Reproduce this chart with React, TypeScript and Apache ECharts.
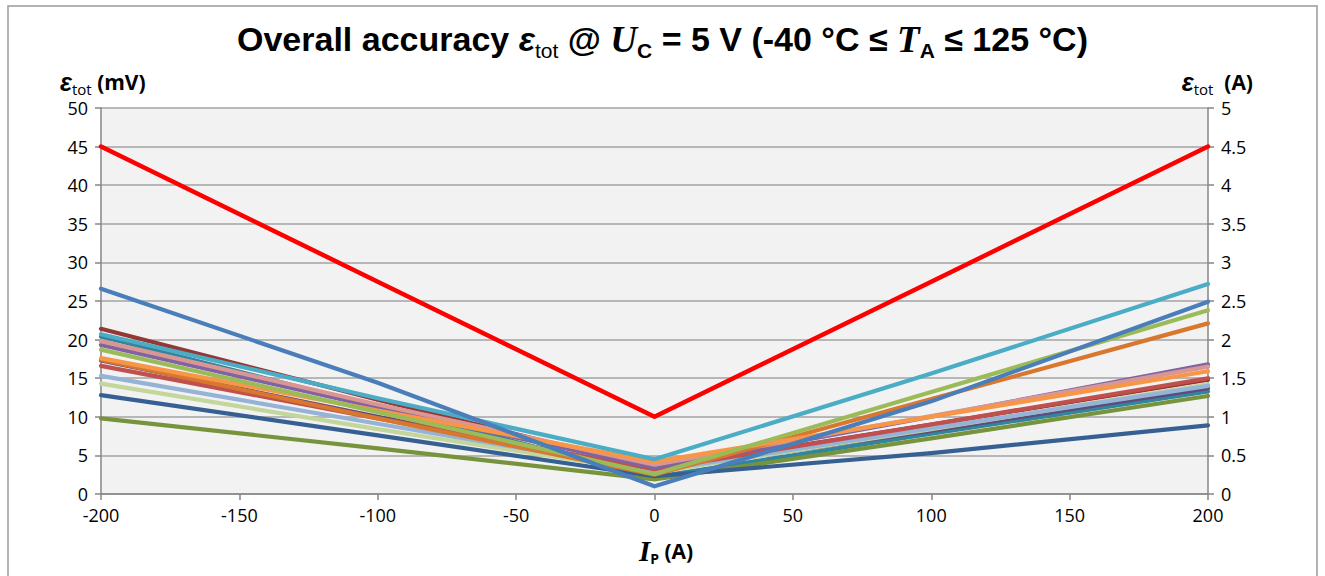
import React, { useEffect, useRef } from "react";
import * as echarts from "echarts";

// Current Ip (A) at which each curve is sampled
const xValues = [-200, -100, 0, 100, 200];

// Overall accuracy curves (mV), one per device / temperature
const blue = [26.6, 14.4, 1.0, 12.0, 24.9];
const teal = [20.7, 12.4, 4.5, 15.6, 27.2];
const green = [18.7, 10.6, 2.6, 13.2, 23.8];
const darkOrange = [17.4, 9.8, 2.5, 12.3, 22.1];
const purple = [19.3, 11.2, 3.4, 10.0, 16.8];
const pink = [19.8, 11.6, 3.8, 10.1, 16.5];
const orange = [17.6, 10.8, 4.2, 10.0, 15.9];
const red = [16.6, 9.8, 3.2, 9.0, 15.0];
const lightGreen = [14.3, 8.4, 2.8, 8.4, 14.2];
const darkPurple = [17.3, 10.0, 3.0, 8.2, 13.7];
const darkTeal = [20.4, 11.3, 2.2, 7.8, 13.3];
const olive = [9.8, 5.9, 1.9, 7.2, 12.7];
const darkBlue = [12.8, 7.6, 2.3, 5.3, 8.9];
const darkRed = [21.4, 12.2, 3.3, 9.0, 14.8];
const lightBlue = [15.3, 9.1, 3.0, 8.5, 14.0];
const limit = [45, 27.5, 10, 27.5, 45];

// tick labels
const leftTicks = ["0", "5", "10", "15", "20", "25", "30", "35", "40", "45", "50"];
const rightTicks = ["0", "0.5", "1", "1.5", "2", "2.5", "3", "3.5", "4", "4.5", "5"];
const xTicks = ["-200", "-150", "-100", "-50", "0", "50", "100", "150", "200"];

const curves: { name: string; values: number[]; color: string; width: number }[] = [
  { name: "dark red", values: darkRed, color: "#953735", width: 4.2 },
  { name: "dark teal", values: darkTeal, color: "#31859C", width: 4.2 },
  { name: "olive", values: olive, color: "#77933C", width: 4.2 },
  { name: "dark blue", values: darkBlue, color: "#376092", width: 4.2 },
  { name: "dark purple", values: darkPurple, color: "#604A7B", width: 4.2 },
  { name: "light green", values: lightGreen, color: "#C3D69B", width: 4.2 },
  { name: "light blue", values: lightBlue, color: "#95B3D7", width: 4.2 },
  { name: "red", values: red, color: "#C0504D", width: 4.2 },
  { name: "purple", values: purple, color: "#8064A2", width: 4.2 },
  { name: "pink", values: pink, color: "#D99694", width: 4.2 },
  { name: "dark orange", values: darkOrange, color: "#D9772F", width: 4.2 },
  { name: "orange", values: orange, color: "#F79646", width: 4.2 },
  { name: "green", values: green, color: "#9BBB59", width: 4.2 },
  { name: "teal", values: teal, color: "#4BACC6", width: 4.2 },
  { name: "blue", values: blue, color: "#4A7EBB", width: 4.2 },
  { name: "limit", values: limit, color: "#FF0000", width: 4.5 },
];

const SANS = "'Open Sans', 'Liberation Sans', sans-serif";
const ARIAL = "'Liberation Sans', Arial, sans-serif";
const SERIF = "'Liberation Serif', 'DejaVu Serif', serif";

export default function App() {
  const ref = useRef<HTMLDivElement>(null);

  useEffect(() => {
    if (!ref.current) return;
    const chart = echarts.init(ref.current, undefined, { renderer: "svg" });

    const titleRich = {
      b: { fontFamily: ARIAL, fontWeight: "bold", fontSize: 34, color: "#000", lineHeight: 44, verticalAlign: "middle" },
      e: { fontFamily: ARIAL, fontWeight: "bold", fontStyle: "italic", fontSize: 34, color: "#000", lineHeight: 44, verticalAlign: "middle" },
      it: { fontFamily: SERIF, fontWeight: "bold", fontStyle: "italic", fontSize: 37, color: "#000", lineHeight: 44, verticalAlign: "middle" },
      s: { fontFamily: ARIAL, fontWeight: "normal", fontSize: 21, color: "#000", lineHeight: 26, verticalAlign: "bottom" },
      sb: { fontFamily: ARIAL, fontWeight: "bold", fontSize: 21, color: "#000", lineHeight: 26, verticalAlign: "bottom" },
    };

    const nameRich = {
      e: { fontFamily: ARIAL, fontWeight: "bold", fontStyle: "italic", fontSize: 25, color: "#000", lineHeight: 28, verticalAlign: "middle" },
      b: { fontFamily: SANS, fontWeight: "bold", fontSize: 21, color: "#000", lineHeight: 28, verticalAlign: "middle" },
      s: { fontFamily: SANS, fontWeight: "normal", fontSize: 15, color: "#000", lineHeight: 17, verticalAlign: "bottom" },
      sb: { fontFamily: SANS, fontWeight: "bold", fontSize: 14, color: "#000", lineHeight: 17, verticalAlign: "bottom" },
      it: { fontFamily: SERIF, fontWeight: "bold", fontStyle: "italic", fontSize: 29, color: "#000", lineHeight: 28, verticalAlign: "middle" },
    };

    const axisLineStyle = { color: "#868686", width: 1.5 };

    chart.setOption({
      animation: false,
      backgroundColor: "#ffffff",
      title: {
        left: "center",
        top: 12,
        text:
          "{b|Overall accuracy }{e|ε}{s|tot}{b| @ }{it|U}{sb|C}{b| = 5 V (-40 °C ≤ }{it|T}{sb|A}{b| ≤ 125 °C)}",
        textStyle: { rich: titleRich },
      },
      graphic: [
        {
          type: "rect",
          shape: { x: 8, y: 6, width: 1309, height: 600 },
          style: { fill: "none", stroke: "#9a9a9a", lineWidth: 1.5 },
          silent: true,
          z: -10,
        },
        {
          type: "text",
          x: 60,
          y: 82,
          style: { text: "{e|ε}{s|tot}{b| (mV)}", rich: nameRich, verticalAlign: "middle", align: "left" },
        },
        {
          type: "text",
          x: 1253,
          y: 82,
          style: { text: "{e|ε}{s|tot}{b|  (A)}", rich: nameRich, verticalAlign: "middle", align: "right" },
        },
        {
          type: "text",
          x: 666,
          y: 551,
          style: { text: "{it|I}{sb|P}{b| (A)}", rich: nameRich, verticalAlign: "middle", align: "center" },
        },
      ],
      grid: {
        left: 101,
        right: 117,
        top: 108,
        bottom: 82,
        show: true,
        backgroundColor: "#f2f2f2",
        borderWidth: 0,
      },
      xAxis: {
        type: "value",
        min: -200,
        max: 200,
        interval: 50,
        axisLine: { show: true, onZero: false, lineStyle: axisLineStyle },
        axisTick: { show: true, inside: false, length: 6, lineStyle: axisLineStyle },
        splitLine: { show: false },
        axisLabel: {
          margin: 12,
          fontFamily: SANS,
          fontSize: 18,
          color: "#000",
          formatter: (v: number) => xTicks[Math.round((v + 200) / 50)] ?? String(v),
        },
      },
      yAxis: [
        {
          type: "value",
          min: 0,
          max: 50,
          interval: 5,
          position: "left",
          axisLine: { show: true, onZero: false, lineStyle: axisLineStyle },
          axisTick: { show: true, inside: false, length: 6, lineStyle: axisLineStyle },
          splitLine: { show: true, lineStyle: { color: "#a3a3a3", width: 1.5 } },
          axisLabel: {
            margin: 13,
            fontFamily: SANS,
            fontSize: 18,
            color: "#000",
            formatter: (v: number) => leftTicks[Math.round(v / 5)] ?? String(v),
          },
        },
        {
          type: "value",
          min: 0,
          max: 5,
          interval: 0.5,
          position: "right",
          axisLine: { show: true, onZero: false, lineStyle: axisLineStyle },
          axisTick: { show: true, inside: false, length: 6, lineStyle: axisLineStyle },
          splitLine: { show: false },
          axisLabel: {
            margin: 13,
            fontFamily: SANS,
            fontSize: 18,
            color: "#000",
            formatter: (v: number) => rightTicks[Math.round(v / 0.5)] ?? String(v),
          },
        },
      ],
      series: curves.map((c) => ({
        name: c.name,
        type: "line",
        yAxisIndex: 0,
        showSymbol: false,
        symbol: "none",
        data: xValues.map((x, i) => [x, c.values[i]]),
        lineStyle: { color: c.color, width: c.width, cap: "round", join: "round" },
        itemStyle: { color: c.color },
        emphasis: { disabled: true },
      })),
    });

    return () => chart.dispose();
  }, []);

  return (
    <div
      ref={ref}
      style={{ position: "absolute", left: 0, top: 0, width: 1325, height: 576 }}
    />
  );
}
